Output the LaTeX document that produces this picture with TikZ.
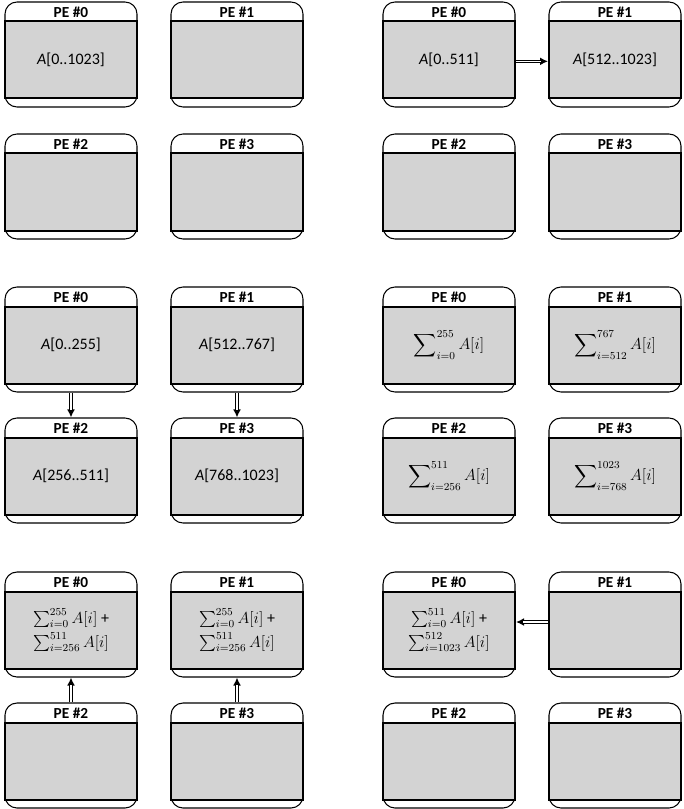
\documentclass[tikz,border=0pt]{standalone}
\usepackage{amsmath}
\usepackage{fontspec}
\setmainfont{Carlito}
\usetikzlibrary{arrows.meta,positioning}
\definecolor{pegray}{HTML}{D3D3D3}
% one processing element: frame, grey body, header
\newcommand{\pebox}[5]{%
  \node[peframe] (#1) at ({#2+66},{#3+52.5}) {};
  \node[pebody] (#1-in) at ({#2+66},{#3+58}) {#5};
  \node[pehead] (#1-hd) at ({#2+66},{#3+10.5}) {PE \##4};
}
\newcommand{\sumA}[2]{\ensuremath{\displaystyle\sum\nolimits_{i=#1}^{#2}A[i]}}

\begin{document}
\begin{tikzpicture}[
  x=0.75pt,
  y=-0.75pt,
  peframe/.style={draw, line width=0.8pt, rounded corners=9pt, fill=white, minimum width=99pt, minimum height=78.75pt, inner sep=0pt},
  pebody/.style={draw, line width=1.5pt, fill=pegray, minimum width=99pt, minimum height=57.75pt, inner sep=0pt, align=center, font=\fontsize{12}{15}\selectfont},
  pehead/.style={inner sep=0pt, font=\fontsize{11.5}{13}\selectfont\bfseries},
  flow/.style={white, line width=1.1pt, shorten >=5.5pt,
    preaction={draw=black, line width=2.7pt, shorten >=0pt, -{Latex[length=6pt,width=6pt]}}}
]
\useasboundingbox (0,0) rectangle (684,809);

% step 1
\pebox{a0}{5}{2}{0}{\textit{A}[0..1023]}
\pebox{a1}{171}{2}{1}{}
\pebox{a2}{5}{134}{2}{}
\pebox{a3}{171}{134}{3}{}

% step 2
\pebox{b0}{383}{2}{0}{\textit{A}[0..511]}
\pebox{b1}{549}{2}{1}{\textit{A}[512..1023]}
\pebox{b2}{383}{134}{2}{}
\pebox{b3}{549}{134}{3}{}
\draw[flow] ([yshift=-1pt]b0-in.east) -- ([yshift=-1pt]b1-in.west);

% step 3
\pebox{c0}{5}{287}{0}{\textit{A}[0..255]}
\pebox{c1}{171}{287}{1}{\textit{A}[512..767]}
\pebox{c2}{5}{418}{2}{\textit{A}[256..511]}
\pebox{c3}{171}{418}{3}{\textit{A}[768..1023]}
\draw[flow] (c0) -- (c2);
\draw[flow] (c1) -- (c3);

% step 4
\pebox{d0}{383}{287}{0}{\sumA{0}{255}}
\pebox{d1}{549}{287}{1}{\sumA{512}{767}}
\pebox{d2}{383}{418}{2}{\sumA{256}{511}}
\pebox{d3}{549}{418}{3}{\sumA{768}{1023}}

% step 5
\pebox{e0}{5}{572}{0}{$\sum_{i=0}^{255}A[i]$ +\\[3pt]$\sum_{i=256}^{511}A[i]$}
\pebox{e1}{171}{572}{1}{$\sum_{i=0}^{255}A[i]$ +\\[3pt]$\sum_{i=256}^{511}A[i]$}
\pebox{e2}{5}{703}{2}{}
\pebox{e3}{171}{703}{3}{}
\draw[flow] (e2) -- (e0);
\draw[flow] (e3) -- (e1);

% step 6
\pebox{f0}{383}{572}{0}{$\sum_{i=0}^{511}A[i]$ +\\[3pt]$\sum_{i=1023}^{512}A[i]$}
\pebox{f1}{549}{572}{1}{}
\pebox{f2}{383}{703}{2}{}
\pebox{f3}{549}{703}{3}{}
\draw[flow] ([yshift=6pt]f1-in.west) -- ([yshift=6pt]f0-in.east);
\end{tikzpicture}
\end{document}
